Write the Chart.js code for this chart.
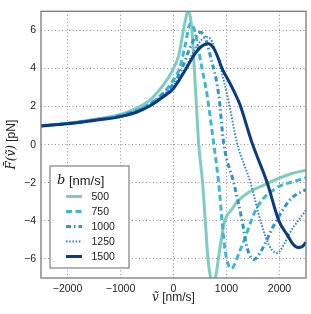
<!DOCTYPE html>
<html>
<head>
<meta charset="utf-8">
<script src="https://cdn.jsdelivr.net/npm/chart.js@4/dist/chart.umd.min.js"></script>
<style>
  html, body { margin: 0; padding: 0; background: #fff; }
  #wrap { width: 311px; height: 314px; }
</style>
</head>
<body>
<div id="wrap"><canvas id="forceChart" width="311" height="314"></canvas></div>
<script>
// values
const labels = ['500', '750', '1000', '1250', '1500'];
const colors = ['#7fcdc1', '#41b6d2', '#2b96cc', '#3a86c6', '#0c3b7e'];

const v500 = [-2500, -2000, -1500, -1000, -700, -440, -300, -100, 0, 100, 180, 230, 272, 310, 348, 392, 430, 474, 549, 600, 650, 700, 740, 790, 847, 900, 966, 1100, 1200, 1420, 1737, 2000, 2250, 2500];
const f500 = [1.0, 1.13, 1.32, 1.58, 1.9, 2.35, 2.75, 3.5, 4.0, 4.7, 5.9, 6.6, 7.05, 6.8, 6.0, 4.0, 2.2, 0.07, -2.0, -4.0, -6.0, -7.0, -7.3, -7.0, -6.0, -5.0, -4.0, -3.4, -3.0, -2.5, -2.08, -1.75, -1.5, -1.34];

const v750 = [-2500, -2000, -1500, -1000, -500, -200, 0, 114, 220, 316, 400, 460, 538, 632, 758, 852, 916, 970, 1090, 1263, 1580, 1958, 2250, 2500];
const f750 = [0.99, 1.12, 1.3, 1.55, 2.05, 2.7, 3.4, 4.0, 5.2, 6.35, 6.0, 5.2, 4.0, 2.64, 0.07, -2.0, -4.0, -5.5, -6.5, -5.5, -3.28, -2.25, -1.95, -1.74];

const v1000 = [-2500, -2000, -1500, -1000, -500, -200, 0, 159, 300, 420, 506, 600, 700, 852, 947, 1136, 1295, 1390, 1515, 1650, 1894, 2210, 2500];
const f1000 = [0.99, 1.11, 1.29, 1.52, 2.02, 2.65, 3.2, 4.0, 5.0, 5.7, 5.9, 5.6, 4.6, 2.64, 0.07, -2.0, -4.0, -5.43, -6.03, -5.6, -4.23, -2.86, -2.35];

const v1250 = [-2500, -2000, -1500, -1000, -500, -200, 0, 222, 400, 530, 632, 730, 850, 1011, 1201, 1453, 1642, 1799, 1958, 2100, 2200, 2350, 2500];
const f1250 = [0.98, 1.1, 1.28, 1.5, 2.0, 2.6, 3.1, 4.0, 5.0, 5.5, 5.65, 5.4, 4.4, 2.64, 0.07, -2.0, -4.0, -5.26, -5.69, -5.15, -4.6, -4.0, -3.45];

const v1500 = [-2500, -2000, -1500, -1000, -700, -440, -200, 0, 240, 400, 550, 660, 760, 850, 916, 1050, 1169, 1250, 1485, 1768, 1989, 2150, 2250, 2350, 2430, 2500];
const f1500 = [0.98, 1.1, 1.27, 1.47, 1.7, 2.04, 2.5, 2.95, 4.0, 4.75, 5.2, 5.3, 5.05, 4.5, 4.0, 3.3, 2.64, 2.13, 0.07, -2.0, -4.0, -4.75, -5.2, -5.4, -5.35, -5.12];

const xTicks = [-2000, -1000, 0, 1000, 2000];
const yTicks = [-6, -4, -2, 0, 2, 4, 6];

const vs = [v500, v750, v1000, v1250, v1500];
const fs = [f500, f750, f1000, f1250, f1500];
const dashes = [[], [6, 3.5], [5, 3, 1.5, 3], [1.6, 1.6], []];
const widths = [3, 3, 3, 2, 3];

const datasets = labels.map(function (lab, i) {
    return {
        label: lab,
        data: vs[i].map(function (v, j) { return { x: v, y: fs[i][j] }; }),
        borderColor: colors[i],
        borderWidth: widths[i],
        borderDash: dashes[i],
        pointRadius: 0,
        fill: false,
        cubicInterpolationMode: 'monotone',
        order: 5 - i
    };
});

const minus = function (val) { return String(val).replace('-', '\u2212'); };

// frame, axis titles and legend box
const extras = {
    id: 'extras',
    afterDatasetsDraw: function (chart) {
        const ctx = chart.ctx;
        const a = chart.chartArea;
        ctx.save();
        ctx.strokeStyle = '#7a7a7a';
        ctx.lineWidth = 1.3;
        ctx.strokeRect(a.left, a.top, a.right - a.left, a.bottom - a.top);

        // x title
        const serif = 'italic 12px "DejaVu Serif"';
        const sans = '12px "Liberation Sans"';
        ctx.fillStyle = '#222';
        ctx.textBaseline = 'middle';
        ctx.font = serif;
        const w1 = ctx.measureText('v\u0303').width;
        ctx.font = sans;
        const w2 = ctx.measureText(' [nm/s]').width;
        let x0 = (a.left + a.right) / 2 - (w1 + w2) / 2;
        ctx.textAlign = 'left';
        ctx.font = serif;
        ctx.fillText('v\u0303', x0, 298);
        ctx.font = sans;
        ctx.fillText(' [nm/s]', x0 + w1, 298);

        // y title
        ctx.save();
        ctx.translate(12, (a.top + a.bottom) / 2);
        ctx.rotate(-Math.PI / 2);
        ctx.font = serif;
        const w3 = ctx.measureText('F\u0304(v\u0303)').width;
        ctx.font = sans;
        const w4 = ctx.measureText(' [pN]').width;
        x0 = -(w3 + w4) / 2;
        ctx.font = serif;
        ctx.fillText('F\u0304(v\u0303)', x0, 0);
        ctx.font = sans;
        ctx.fillText(' [pN]', x0 + w3, 0);
        ctx.restore();

        // legend
        ctx.fillStyle = '#fff';
        ctx.fillRect(50, 166, 79, 102);
        ctx.strokeStyle = '#8a8a8a';
        ctx.lineWidth = 1.3;
        ctx.strokeRect(50, 166, 79, 102);
        ctx.fillStyle = '#222';
        ctx.font = 'italic 13px "DejaVu Serif"';
        ctx.fillText('b', 57, 181);
        const wb = ctx.measureText('b').width;
        ctx.font = '13px "Liberation Sans"';
        ctx.fillText(' [nm/s]', 57 + wb, 181);
        ctx.font = '10.5px "Liberation Sans"';
        labels.forEach(function (lab, i) {
            const y = 196.5 + i * 15;
            ctx.strokeStyle = colors[i];
            ctx.lineWidth = widths[i];
            ctx.setLineDash(dashes[i]);
            ctx.beginPath();
            ctx.moveTo(66, y);
            ctx.lineTo(82, y);
            ctx.stroke();
            ctx.setLineDash([]);
            ctx.fillStyle = '#222';
            ctx.fillText(lab, 91.5, y + 0.5);
        });
        ctx.restore();
    }
};

const gridStyle = {
    color: '#8c8c8c',
    lineWidth: 1,
    drawTicks: false
};

const config = {
    type: 'line',
    data: { datasets: datasets },
    options: {
        responsive: false,
        animation: false,
        layout: { padding: { left: 0, right: 5, top: 5, bottom: 0 } },
        plugins: {
            legend: { display: false },
            tooltip: { enabled: false }
        },
        scales: {
            x: {
                type: 'linear',
                min: -2500,
                max: 2500,
                grid: gridStyle,
                border: { display: false, dash: [1, 2.5] },
                afterBuildTicks: function (s) { s.ticks = xTicks.map(function (v) { return { value: v }; }); },
                afterFit: function (s) { s.height = 36; },
                ticks: {
                    padding: 5,
                    color: '#222',
                    font: { family: 'Liberation Sans', size: 10.5 },
                    callback: minus,
                    maxRotation: 0
                }
            },
            y: {
                min: -7,
                max: 7,
                grid: gridStyle,
                border: { display: false, dash: [1, 2.5] },
                afterBuildTicks: function (s) { s.ticks = yTicks.map(function (v) { return { value: v }; }); },
                afterFit: function (s) { s.width = 41; },
                ticks: {
                    padding: 5,
                    color: '#222',
                    font: { family: 'Liberation Sans', size: 10.5 },
                    callback: minus
                }
            }
        }
    },
    plugins: [extras]
};

const ctx = document.getElementById('forceChart').getContext('2d');
const forceChart = new Chart(ctx, config);
</script>
</body>
</html>
